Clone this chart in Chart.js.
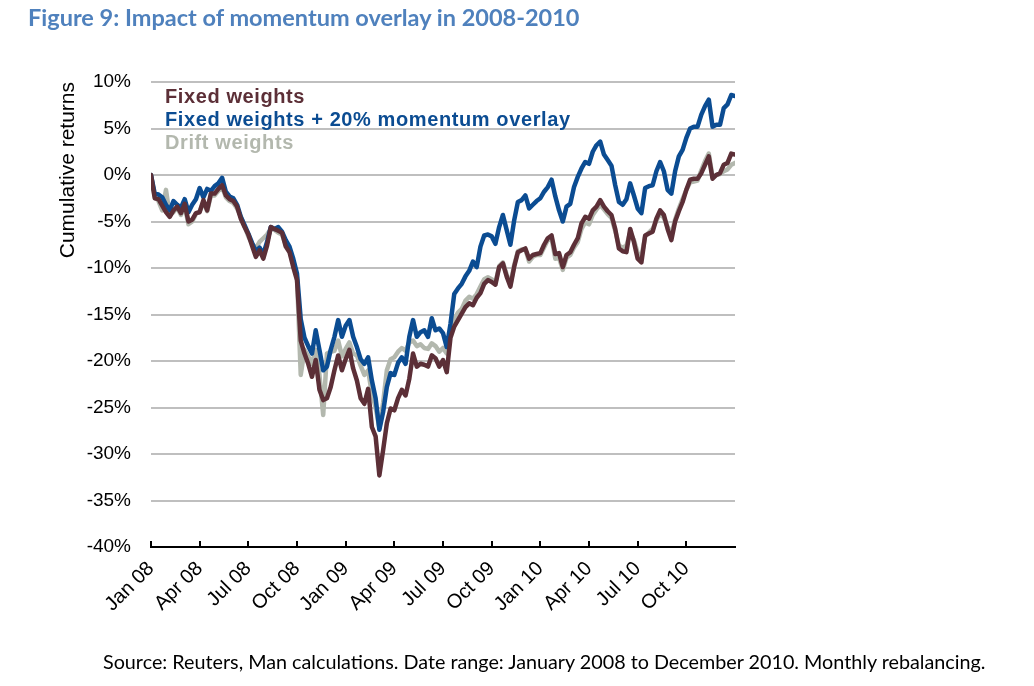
<!DOCTYPE html>
<html>
<head>
<meta charset="utf-8">
<script src="https://cdn.jsdelivr.net/npm/chart.js@4"></script>
<style>
  body { margin: 0; background: #fff; }
  #wrap { position: absolute; left: 0; top: 0; width: 1034px; height: 686px; }
  #title { position: absolute; left: 28px; top: 3px; font: bold 23.5px Lato, sans-serif; color: #4F81BD; white-space: nowrap; }
  #source { position: absolute; left: 103px; top: 650px; font: 19.75px Lato, sans-serif; color: #000; white-space: nowrap; }
</style>
</head>
<body>
<div id="wrap"><canvas id="chart" width="1034" height="686"></canvas></div>
<div id="title">Figure 9: Impact of momentum overlay in 2008-2010</div>
<div id="source">Source: Reuters, Man calculations. Date range: January 2008 to December 2010. Monthly rebalancing.</div>
<script>
// weekly cumulative returns (%), Jan 2008 - Dec 2010
const fixedWeights = [
  0.0, -2.5, -2.6, -3.3, -4.0, -4.5, -3.8, -3.4, -4.1, -3.1,
  -5.0, -4.8, -4.1, -4.0, -2.7, -3.8, -2.0, -2.0, -1.5, -1.1,
  -2.2, -2.6, -2.8, -3.4, -4.7, -5.6, -6.4, -7.6, -8.8, -8.1,
  -9.0, -7.6, -5.6, -5.8, -6.0, -6.2, -7.7, -8.3, -9.9, -11.3,
  -17.8, -19.2, -20.3, -21.7, -19.9, -23.1, -24.2, -24.0, -22.8, -21.0,
  -19.4, -21.0, -19.8, -18.8, -20.8, -22.1, -24.0, -24.6, -23.0, -27.1,
  -28.1, -32.3, -29.6, -26.7, -25.1, -25.3, -24.0, -23.1, -23.7, -21.9,
  -19.2, -20.6, -20.3, -20.4, -20.6, -19.4, -19.7, -20.6, -19.9, -21.2,
  -17.5, -16.3, -15.6, -14.9, -14.2, -13.8, -14.0, -13.2, -12.7, -11.7,
  -11.3, -11.5, -11.8, -9.9, -9.5, -10.9, -12.0, -9.9, -8.3, -8.1,
  -7.9, -9.0, -8.6, -8.5, -8.4, -7.5, -6.8, -6.5, -8.5, -8.4,
  -9.9, -8.6, -8.3, -7.5, -6.8, -5.2, -4.5, -4.7, -3.8, -3.4,
  -2.7, -3.4, -3.9, -4.3, -5.8, -7.9, -8.2, -8.3, -5.8, -7.2,
  -9.0, -9.4, -6.5, -6.3, -6.1, -4.7, -3.8, -4.3, -5.8, -7.0,
  -5.0, -3.9, -2.9, -1.6, -0.5, -0.4, -0.4, 0.2, 1.1, 2.0,
  -0.4, 0.0, 0.2, 1.1, 1.3, 2.3, 2.2
];
const momentumOverlay = [
  0.0, -2.0, -2.1, -2.4, -3.2, -3.8, -2.8, -3.2, -3.5, -2.6,
  -4.0, -3.2, -2.6, -1.4, -2.4, -1.5, -1.7, -1.2, -0.9, -0.3,
  -1.8, -2.3, -2.5, -3.2, -4.5, -5.4, -6.3, -7.3, -8.2, -7.8,
  -8.5, -7.2, -5.6, -5.8, -5.6, -6.1, -7.0, -7.7, -9.0, -10.6,
  -15.5, -17.5, -18.4, -19.2, -16.7, -18.8, -21.0, -20.6, -18.8, -17.4,
  -15.6, -17.4, -16.2, -15.6, -17.4, -18.5, -19.8, -20.3, -19.6, -22.1,
  -24.0, -27.4, -25.5, -22.8, -21.3, -21.5, -20.2, -19.6, -20.3, -17.4,
  -15.6, -17.4, -16.9, -16.7, -17.4, -15.4, -16.7, -16.5, -17.0, -18.5,
  -16.0, -12.8, -12.2, -11.7, -10.9, -10.3, -9.3, -9.9, -7.7, -6.5,
  -6.4, -6.6, -7.4, -5.6, -4.3, -5.9, -7.5, -4.9, -2.9, -2.7,
  -2.2, -3.6, -3.2, -2.8, -2.5, -1.8, -1.3, -0.5, -2.3, -3.8,
  -5.0, -3.4, -3.1, -1.3, -0.2, 0.7, 1.4, 1.2, 2.5, 3.2,
  3.6, 2.2, 1.6, 1.0, -1.1, -2.9, -3.2, -2.6, -0.9, -2.2,
  -3.6, -4.1, -1.4, -1.2, -1.1, 0.4, 1.4, 0.4, -1.6, -2.0,
  0.4, 2.0, 2.7, 4.0, 5.0, 5.2, 5.2, 6.5, 7.4, 8.1,
  5.2, 5.4, 5.4, 7.2, 7.6, 8.6, 8.5
];
const driftWeights = [
  0.0, -2.3, -2.8, -3.8, -1.6, -4.3, -4.0, -3.5, -4.3, -3.3,
  -5.3, -5.0, -4.2, -3.9, -2.9, -3.9, -2.2, -2.2, -1.7, -1.3,
  -2.4, -2.8, -3.0, -3.6, -4.5, -5.5, -6.6, -7.4, -7.9, -7.2,
  -6.8, -6.4, -5.8, -5.9, -6.2, -6.4, -7.5, -8.1, -9.6, -11.0,
  -21.5, -18.8, -19.5, -20.3, -18.8, -21.5, -25.8, -19.2, -19.0, -18.9,
  -17.8, -19.5, -18.7, -18.0, -19.2, -19.4, -20.5, -21.5, -21.0, -23.5,
  -25.0, -27.2, -24.5, -21.0, -19.8, -19.6, -19.0, -18.6, -18.9, -18.0,
  -17.8, -18.4, -18.2, -18.6, -18.7, -18.1, -18.4, -19.0, -18.6, -19.2,
  -17.0, -15.5, -14.8, -14.4, -13.5, -13.1, -13.3, -12.8, -12.0, -11.2,
  -11.0, -11.2, -11.6, -9.8, -9.4, -10.7, -11.8, -9.7, -8.2, -8.0,
  -8.0, -9.3, -8.8, -8.6, -8.6, -7.8, -7.0, -6.8, -9.0, -8.9,
  -10.2, -8.9, -8.6, -7.8, -7.2, -5.8, -5.1, -5.3, -4.3, -3.7,
  -3.2, -3.7, -4.2, -4.6, -6.0, -7.6, -7.8, -7.6, -6.2, -7.0,
  -8.4, -8.8, -6.6, -6.2, -5.8, -4.9, -4.1, -4.6, -5.6, -6.4,
  -4.8, -3.6, -2.6, -1.6, -0.8, -0.7, -0.6, 0.5, 1.5, 2.3,
  -0.2, 0.0, 0.1, 0.4, 0.6, 1.1, 1.3
];
const tickLabels = ['Jan 08', 'Apr 08', 'Jul 08', 'Oct 08', 'Jan 09', 'Apr 09',
                    'Jul 09', 'Oct 09', 'Jan 10', 'Apr 10', 'Jul 10', 'Oct 10'];
const weeksPerTick = 13;
const totalWeeks = 156;

const FONT = "'Liberation Sans', Arial, sans-serif";
const weekIdx = fixedWeights.map((_, i) => i);

// legend drawn as coloured text inside the plot, top left
const textLegend = {
  id: 'textLegend',
  afterDatasetsDraw(chart) {
    const { ctx, chartArea } = chart;
    ctx.save();
    ctx.font = 'bold 20px ' + FONT;
    ctx.letterSpacing = '0.6px';
    ctx.textBaseline = 'alphabetic';
    [0, 1, 2].forEach(i => {
      const ds = chart.data.datasets[i];
      ctx.fillStyle = ds.borderColor;
      ctx.fillText(ds.label, chartArea.left + 14, chartArea.top + 21 + i * 23);
    });
    ctx.restore();
  }
};

// tick marks pointing up into the plot
const innerTicks = {
  id: 'innerTicks',
  afterDraw(chart) {
    const { ctx, chartArea } = chart;
    const xs = chart.scales.x;
    ctx.save();
    ctx.strokeStyle = '#000';
    ctx.lineWidth = 2;
    xs.ticks.forEach(t => {
      const px = Math.round(xs.getPixelForValue(t.value));
      ctx.beginPath();
      ctx.moveTo(px, chartArea.bottom);
      ctx.lineTo(px, chartArea.bottom - 6);
      ctx.stroke();
    });
    ctx.restore();
  }
};

const line = (label, data, color, order) => ({
  label, data, borderColor: color, backgroundColor: color, order,
  borderWidth: 4.5, pointRadius: 0, tension: 0,
  borderJoinStyle: 'round', borderCapStyle: 'round'
});

new Chart(document.getElementById('chart'), {
  type: 'line',
  data: {
    labels: weekIdx,
    datasets: [
      line('Fixed weights', fixedWeights, '#5C2F37', 0),
      line('Fixed weights + 20% momentum overlay', momentumOverlay, '#0B4C92', 1),
      line('Drift weights', driftWeights, '#B3B8AE', 2)
    ]
  },
  options: {
    responsive: false,
    animation: false,
    layout: { padding: { left: 56, top: 82, right: 299, bottom: 59 } },
    plugins: { legend: { display: false }, tooltip: { enabled: false } },
    scales: {
      x: {
        type: 'linear',
        min: 0,
        max: totalWeeks,
        afterFit: s => { s.height = 80; },
        afterBuildTicks: s => {
          s.ticks = s.ticks.filter(t => t.value < totalWeeks);
        },
        ticks: {
          stepSize: weeksPerTick,
          autoSkip: false,
          minRotation: 45,
          maxRotation: 45,
          padding: 10,
          color: '#000',
          font: { family: FONT, size: 20 },
          callback: v => tickLabels[v / weeksPerTick] || ''
        },
        grid: { display: true, drawOnChartArea: false, drawTicks: false },
        border: { display: true, color: '#000', width: 2 }
      },
      y: {
        min: -40,
        max: 10,
        afterFit: s => { s.width = 151 - 56; },
        ticks: {
          stepSize: 5,
          padding: 20,
          color: '#000',
          font: { family: FONT, size: 19 },
          callback: v => v + '%'
        },
        grid: { color: '#BFBFBF', lineWidth: 2, drawTicks: false },
        border: { display: false },
        title: {
          display: true,
          text: 'Cumulative returns',
          align: 'end',
          color: '#000',
          padding: 0,
          font: { family: FONT, size: 21 }
        }
      }
    }
  },
  plugins: [textLegend, innerTicks]
});
</script>
</body>
</html>
